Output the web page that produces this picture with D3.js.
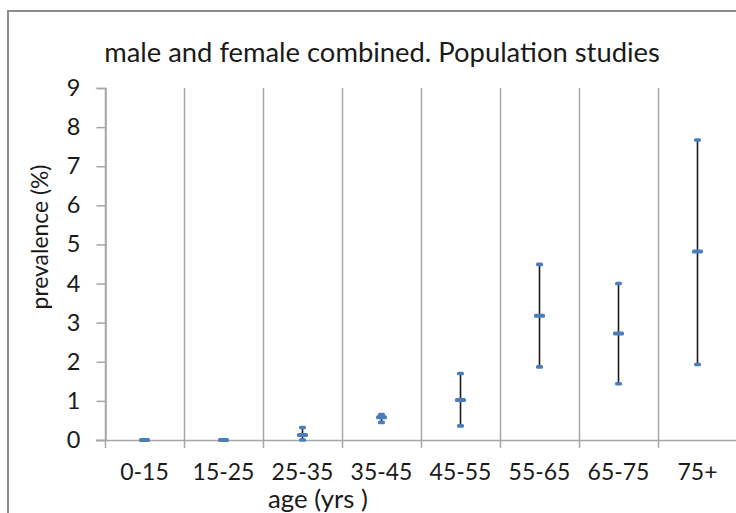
<!DOCTYPE html>
<html><head><meta charset="utf-8">
<script src="https://cdn.jsdelivr.net/npm/d3@7"></script>
<style>html,body{margin:0;padding:0;background:#fff;overflow:hidden}</style>
</head><body>
<svg id="c" width="736" height="513"></svg>
<script>
const categories = ["0-15","15-25","25-35","35-45","45-55","55-65","65-75","75+"];
const meanValues = [0.0, 0.0, 0.13, 0.58, 1.02, 3.18, 2.72, 4.82];
const lowValues  = [0.0, 0.0, 0.0, 0.45, 0.36, 1.87, 1.44, 1.93];
const highValues = [0.0, 0.0, 0.32, 0.65, 1.70, 4.49, 4.00, 7.67];
const yTicks = [0,1,2,3,4,5,6,7,8,9];
const titleText = "male and female combined. Population studies";
const xTitle = "age (yrs )";
const yTitle = "prevalence (%)";

const FONT = "Lato, 'Open Sans', sans-serif";
const svg = d3.select("#c");
const blue = "#4A7EBB", grid = "#A6A6A6";

// fit a text's font size so its rendered width matches a target width
function fit(sel, target, base) {
  sel.attr("font-size", base);
  const w = sel.node().getComputedTextLength();
  if (w > 0) sel.attr("font-size", base * target / w);
  return sel;
}

// frame
svg.append("rect").attr("x",8).attr("y",11).attr("width",760).attr("height",540)
  .attr("fill","#fff").attr("stroke","#8C8C8C").attr("stroke-width",2);

const x = d3.scaleBand().domain(categories).range([105, 737]).padding(0);
const y = d3.scaleLinear().domain([0,9]).range([440, 88]);

// vertical gridlines at category boundaries (extend below as tick marks)
const bounds = categories.map(c => x(c)).concat([x.range()[1]]);
svg.append("g").selectAll("line").data(bounds).join("line")
  .attr("x1", d=>d+0.5).attr("x2", d=>d+0.5).attr("y1", y(9)).attr("y2", y(0)+8)
  .attr("stroke", grid).attr("stroke-width", 1.5);

// x axis line
svg.append("line").attr("x1", 96).attr("x2", 737).attr("y1", y(0)+0.5).attr("y2", y(0)+0.5)
  .attr("stroke", grid).attr("stroke-width", 1.5);

// y axis
const yAxis = d3.axisLeft(y).tickValues(yTicks).tickSize(9).tickPadding(16).tickFormat(d3.format("d"));
const gy = svg.append("g").attr("transform","translate(105.5,0)").call(yAxis);
gy.select(".domain").attr("stroke", grid).attr("stroke-width",1.5);
gy.selectAll(".tick line").attr("stroke", grid).attr("stroke-width",1.5);
gy.selectAll(".tick text").attr("font-family", FONT).attr("font-size", 23.5).attr("fill","#1a1a1a");

// x labels
const xAxis = d3.axisBottom(x).tickSize(0).tickPadding(24);
const gx = svg.append("g").attr("transform", `translate(0,${y(0)})`).call(xAxis);
gx.select(".domain").remove();
gx.selectAll(".tick text").attr("font-family", FONT).attr("font-size", 23).attr("fill","#1a1a1a");

// error bars
const cx = i => x(categories[i]) + x.bandwidth()/2;
const idx = d3.range(categories.length);
svg.append("g").selectAll("line").data(idx).join("line")
  .attr("x1", i=>cx(i)).attr("x2", i=>cx(i))
  .attr("y1", i=>y(lowValues[i])).attr("y2", i=>y(highValues[i]))
  .attr("stroke","#1a1a1a").attr("stroke-width",1.6);
// caps
[lowValues, highValues].forEach(arr => {
  svg.append("g").selectAll("rect").data(idx).join("rect")
    .attr("x", i=>cx(i)-3.5).attr("y", i=>y(arr[i])-1.8).attr("width",7).attr("height",3.6)
    .attr("rx",1.5).attr("fill", blue);
});
// mean markers
svg.append("g").selectAll("rect").data(idx).join("rect")
  .attr("x", i=>cx(i)-5.5).attr("y", i=>y(meanValues[i])-2).attr("width",11).attr("height",4)
  .attr("rx",1.5).attr("fill", blue);

// title
fit(svg.append("text").attr("x", 382).attr("y", 62).attr("text-anchor","middle")
  .attr("font-family", FONT).attr("fill","#1a1a1a").text(titleText), 556, 24);

// axis titles
fit(svg.append("text").attr("x", 318).attr("y", 507.5).attr("text-anchor","middle")
  .attr("font-family", FONT).attr("fill","#1a1a1a").text(xTitle), 100, 24);
fit(svg.append("text").attr("transform","translate(48,237) rotate(-90)").attr("text-anchor","middle")
  .attr("font-family", FONT).attr("fill","#1a1a1a").text(yTitle), 145, 24);
</script>
</body></html>
